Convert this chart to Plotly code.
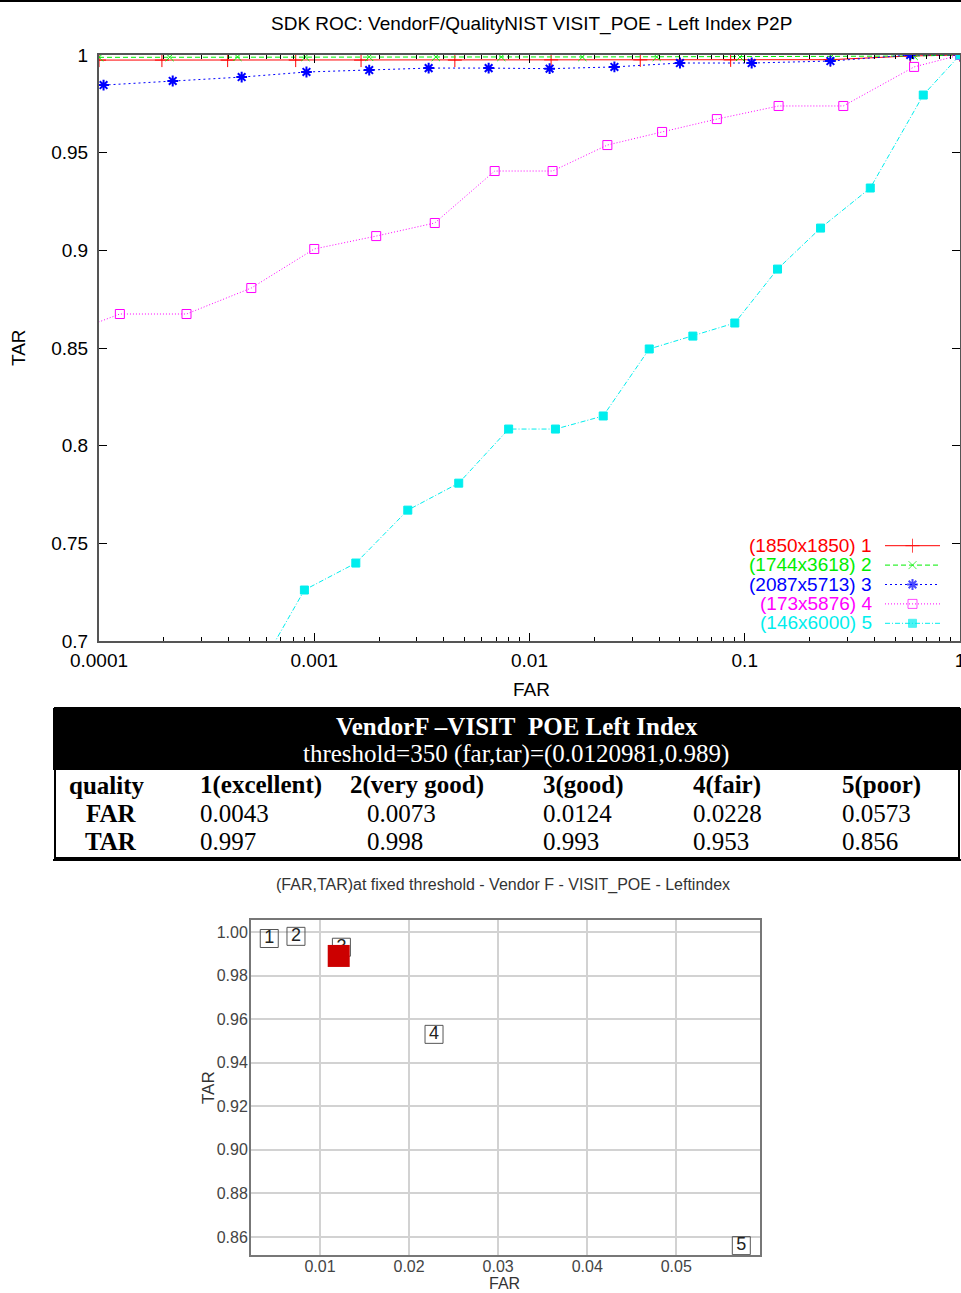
import plotly.graph_objects as go

# ---------------------------------------------------------------- data
SERIES_LABELS = ["(1850x1850) 1", "(1744x3618) 2", "(2087x5713) 3",
                 "(173x5876) 4", "(146x6000) 5"]

FAR_Q1 = [1.0e-4, 1.96e-4, 3.96e-4, 8.2e-4, 1.65e-3, 4.5e-3, 1.26e-2,
          3.27e-2, 8.6e-2, 0.25, 0.587, 1.0]
TAR_Q1 = [0.9974, 0.9974, 0.9974, 0.9974, 0.9974, 0.9974, 0.9975,
          0.9975, 0.9975, 0.9976, 0.9995, 1.0]

FAR_Q2 = [1.0e-4, 2.13e-4, 4.4e-4, 9.1e-4, 1.8e-3, 3.67e-3, 7.4e-3,
          1.76e-2, 3.9e-2, 9.5e-2, 0.253, 0.61, 1.0]
TAR_Q2 = [0.9988, 0.9989, 0.999, 0.999, 0.999, 0.999, 0.999,
          0.999, 0.999, 0.999, 0.9993, 0.9995, 1.0]

FAR_Q3 = [1.05e-4, 2.2e-4, 4.6e-4, 9.2e-4, 1.8e-3, 3.4e-3, 6.46e-3,
          1.24e-2, 2.48e-2, 5.0e-2, 0.1077, 0.25, 0.587, 1.0]
TAR_Q3 = [0.9846, 0.9867, 0.9887, 0.9913, 0.9923, 0.9933, 0.9933,
          0.993, 0.9939, 0.9959, 0.9959, 0.9969, 1.0, 1.0]

FAR_Q4 = [8.3e-5, 1.25e-4, 2.55e-4, 5.1e-4, 1.0e-3, 1.94e-3, 3.63e-3,
          6.89e-3, 1.28e-2, 2.30e-2, 4.13e-2, 7.42e-2, 0.1436, 0.287,
          0.612, 1.0]
TAR_Q4 = [0.860, 0.8674, 0.8674, 0.8807, 0.9007, 0.9073, 0.914,
          0.9406, 0.9406, 0.9539, 0.9606, 0.9672, 0.9739, 0.9739,
          0.9939, 1.0]

FAR_Q5 = [5.2e-4, 9.0e-4, 1.56e-3, 2.72e-3, 4.69e-3, 8.0e-3, 1.32e-2,
          2.20e-2, 3.60e-2, 5.74e-2, 8.99e-2, 0.142, 0.225, 0.383,
          0.675, 1.0]
TAR_Q5 = [0.680, 0.7261, 0.7399, 0.767, 0.7808, 0.8085, 0.8085,
          0.8152, 0.8495, 0.8561, 0.8628, 0.8904, 0.9114, 0.9319,
          0.9795, 1.0]

ROC_X_TICKS = [1e-4, 1e-3, 1e-2, 1e-1, 1.0]
ROC_X_TEXT = ["0.0001", "0.001", "0.01", "0.1", "1"]
ROC_Y_TICKS = [0.7, 0.75, 0.8, 0.85, 0.9, 0.95, 1.0]
ROC_Y_TEXT = ["0.7", "0.75", "0.8", "0.85", "0.9", "0.95", "1"]

# operating point at the fixed threshold
THRESHOLD = 350
OP_FAR = 0.0120981
OP_TAR = 0.989

QUALITY_IDS = ["1", "2", "3", "4", "5"]
QUALITY_NAMES = ["1(excellent)", "2(very good)", "3(good)", "4(fair)", "5(poor)"]
FAR_AT_THRESHOLD = [0.0043, 0.0073, 0.0124, 0.0228, 0.0573]
TAR_AT_THRESHOLD = [0.997, 0.998, 0.993, 0.953, 0.856]

FIX_X_TICKS = [0.01, 0.02, 0.03, 0.04, 0.05]
FIX_Y_TICKS = [0.86, 0.88, 0.90, 0.92, 0.94, 0.96, 0.98, 1.00]

# ---------------------------------------------------------------- helpers
W, H = 961, 1293


def px(x):
    return x / W


def py(y):
    return 1 - y / H


SANS = "Liberation Sans"
SERIF = "Liberation Serif"

STYLES = [
    dict(color="#ff0000", dash="solid", symbol="cross-thin", size=10, lw=1),
    dict(color="#00ee00", dash="5px,3px", symbol="x-thin", size=8, lw=1),
    dict(color="#0000ff", dash="2px,3px", symbol="asterisk", size=9, lw=2),
    dict(color="#ff00ff", dash="1px,2px", symbol="square-open", size=9, lw=1),
    dict(color="#00eeee", dash="5px,2px,1px,2px", symbol="square", size=8, lw=1),
]
SERIES = [(FAR_Q1, TAR_Q1), (FAR_Q2, TAR_Q2), (FAR_Q3, TAR_Q3),
          (FAR_Q4, TAR_Q4), (FAR_Q5, TAR_Q5)]

fig = go.Figure()

# ---------------------------------------------------------------- ROC curves
for (xs, ys), st, name in zip(SERIES, STYLES, SERIES_LABELS):
    fig.add_trace(go.Scatter(
        x=xs, y=ys, mode="lines+markers", name=name,
        line=dict(color=st["color"], width=1, dash=st["dash"]),
        marker=dict(symbol=st["symbol"], size=st["size"], color=st["color"],
                    line=dict(color=st["color"], width=st["lw"])),
        xaxis="x", yaxis="y", hoverinfo="skip"))

# legend samples (line with a marker in the middle), drawn on a hidden axis
for i, st in enumerate(STYLES):
    fig.add_trace(go.Scatter(
        x=[0, 0.5, 1], y=[i, i, i], mode="lines+markers",
        line=dict(color=st["color"], width=1, dash=st["dash"]),
        marker=dict(symbol=st["symbol"], size=[0, st["size"], 0],
                    color=st["color"],
                    line=dict(color=st["color"], width=st["lw"])),
        xaxis="x3", yaxis="y3", hoverinfo="skip"))

# ---------------------------------------------------------------- fixed threshold plot
fig.add_trace(go.Scatter(
    x=FAR_AT_THRESHOLD, y=TAR_AT_THRESHOLD, mode="markers+text",
    text=QUALITY_IDS, textposition="middle center",
    textfont=dict(family=SANS, size=18, color="#222222"),
    marker=dict(symbol="square-open", size=18, color="#555555",
                line=dict(color="#555555", width=1)),
    xaxis="x2", yaxis="y2", hoverinfo="skip"))
fig.add_trace(go.Scatter(
    x=[OP_FAR], y=[OP_TAR], mode="markers",
    marker=dict(symbol="square", size=22, color="#cc0000"),
    xaxis="x2", yaxis="y2", hoverinfo="skip"))

minor_vals = [k * 10 ** e for e in range(-4, 0) for k in range(2, 10)]

axis_font = dict(family=SANS, size=19, color="#000000")
fig.update_layout(
    width=W, height=H, margin=dict(l=0, r=0, t=0, b=0, pad=0),
    paper_bgcolor="white", plot_bgcolor="white", showlegend=False,
    xaxis=dict(
        type="log", range=[-4, 0], domain=[px(99), px(960)], anchor="y",
        tickvals=ROC_X_TICKS, ticktext=ROC_X_TEXT, tickfont=axis_font,
        ticks="inside", ticklen=8, tickcolor="#000000", tickwidth=1,
        showline=True, linecolor="#555555", linewidth=2, mirror="ticks",
        showgrid=False, zeroline=False, ticklabelstandoff=1,
        ticklabeloverflow="allow", automargin=False,
        minor=dict(tickvals=minor_vals, ticks="inside", ticklen=4,
                   tickcolor="#000000", showgrid=False)),
    yaxis=dict(
        range=[0.7, 1.0], domain=[py(641), py(55)], anchor="x",
        tickvals=ROC_Y_TICKS, ticktext=ROC_Y_TEXT, tickfont=axis_font,
        ticks="inside", ticklen=8, tickcolor="#000000", tickwidth=1,
        showline=True, linecolor="#555555", linewidth=2, mirror="ticks",
        showgrid=False, zeroline=False, ticklabelstandoff=5,
        automargin=False),
    xaxis2=dict(
        range=[0.00225, 0.0594], domain=[px(251), px(760)], anchor="y2",
        tickvals=FIX_X_TICKS, tickformat=".2f",
        tickfont=dict(family=SANS, size=16, color="#444444"),
        showgrid=True, gridcolor="#d2d2d2", gridwidth=1.5,
        showline=True, linecolor="#777777", linewidth=2, mirror=True,
        ticks="", zeroline=False, ticklabelstandoff=-4, automargin=False),
    yaxis2=dict(
        range=[0.8517, 1.0055], domain=[py(1255), py(920)], anchor="x2",
        tickvals=FIX_Y_TICKS, tickformat=".2f",
        tickfont=dict(family=SANS, size=16, color="#444444"),
        showgrid=True, gridcolor="#d2d2d2", gridwidth=1.5,
        showline=True, linecolor="#777777", linewidth=2, mirror=True,
        ticks="", zeroline=False, ticklabelstandoff=-2, automargin=False),
    xaxis3=dict(range=[0, 1], domain=[px(885), px(940)], anchor="y3",
                visible=False, fixedrange=True, automargin=False),
    yaxis3=dict(range=[4.5, -0.5], domain=[py(633), py(536)], anchor="x3",
                visible=False, fixedrange=True, automargin=False),
)

ann = []


def text(x, y, s, size, color="#000000", family=SANS, xanchor="center",
         angle=0):
    ann.append(dict(x=px(x), y=py(y), xref="paper", yref="paper", text=s,
                    showarrow=False, xanchor=xanchor, yanchor="middle",
                    textangle=angle,
                    font=dict(family=family, size=size, color=color)))


# ROC titles
text(531, 24, "SDK ROC: VendorF/QualityNIST VISIT_POE - Left Index P2P", 19)
text(531, 690, "FAR", 19)
text(18, 348, "TAR", 19, angle=-90)

# ROC legend text
for i, (label, st) in enumerate(zip(SERIES_LABELS, STYLES)):
    text(874, 545 + 19.5 * i, label, 19, color=st["color"], xanchor="right")

# table
shapes = [
    dict(type="rect", xref="paper", yref="paper", x0=0, x1=1,
         y0=py(2), y1=1, fillcolor="#000000", line=dict(width=0)),
    dict(type="rect", xref="paper", yref="paper", x0=px(53), x1=1,
         y0=py(770), y1=py(708), fillcolor="#000000", line=dict(width=0)),
    dict(type="rect", xref="paper", yref="paper", x0=px(55), x1=px(959),
         y0=py(858), y1=py(708), line=dict(color="#000000", width=2)),
    dict(type="line", xref="paper", yref="paper", x0=px(53), x1=1,
         y0=py(860), y1=py(860), line=dict(color="#000000", width=2)),
]

text(517, 726, "<b>VendorF \u2013VISIT\u00a0 POE Left Index</b>", 25,
     color="#ffffff", family=SERIF)
text(516, 754, f"threshold={THRESHOLD} (far,tar)=({OP_FAR},{OP_TAR})", 25,
     color="#ffffff", family=SERIF)

HEAD_X = [198, 348, 541, 691, 840]
VAL_X = [198, 365, 541, 691, 840]
text(67, 785, "<b>quality</b>", 25, family=SERIF, xanchor="left")
text(111, 813, "<b>FAR</b>", 25, family=SERIF)
text(111, 841, "<b>TAR</b>", 25, family=SERIF)
for hx, vx, name, far, tar in zip(HEAD_X, VAL_X, QUALITY_NAMES,
                                  FAR_AT_THRESHOLD, TAR_AT_THRESHOLD):
    text(hx, 785, f"<b>{name}</b>", 25, family=SERIF, xanchor="left")
    text(vx, 813, f"{far:g}", 25, family=SERIF, xanchor="left")
    text(vx, 841, f"{tar:g}", 25, family=SERIF, xanchor="left")

# fixed-threshold chart titles
text(503, 885, "(FAR,TAR)at fixed threshold - Vendor F - VISIT_POE - Leftindex",
     16, color="#333333")
text(505, 1283, "FAR", 16, color="#333333")
text(208, 1088, "TAR", 17, color="#333333", angle=-90)

fig.update_layout(annotations=ann, shapes=shapes)

fig.write_html("out.html", config={"displayModeBar": False})
